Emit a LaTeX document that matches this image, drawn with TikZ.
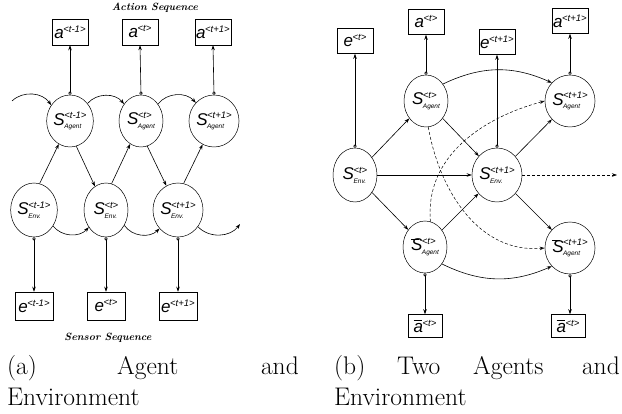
\documentclass[tikz,border=0pt]{standalone}
\usepackage{fontspec}
\newfontfamily\lbl{Liberation Sans}
\usetikzlibrary{arrows.meta,shapes.geometric}
\newcommand{\sv}[3]{{\lbl\itshape{\fontsize{17}{17}\selectfont #1}\hspace{-0.5pt}\ooalign{\raisebox{6.5pt}{\fontsize{9.5}{9.5}\selectfont #2}\cr\raisebox{-3.5pt}{\fontsize{6.5}{6.5}\selectfont #3}\cr}}}
\newcommand{\bv}[1]{\rlap{\raisebox{11.5pt}{\rule{8pt}{0.7pt}}}#1}
\newcommand{\av}[2]{{\lbl\itshape{\fontsize{17}{17}\selectfont #1}\hspace{-0.5pt}\raisebox{6pt}{\fontsize{9.5}{9.5}\selectfont #2}}}
\begin{document}
\begin{tikzpicture}[x=1pt,y=-1pt,
  st/.style={draw,ellipse,line width=0.5pt,minimum width=44pt,minimum height=52pt,inner sep=0pt},
  bx/.style={draw,rectangle,line width=0.5pt,minimum width=36pt,minimum height=26pt,inner sep=0pt},
  ar/.style={line width=0.6pt,-{Stealth[length=5pt,width=3.5pt]}},
  oar/.style={line width=0.6pt,{Circle[open,length=3.2pt]}-{Stealth[length=5pt,width=3.5pt]}},
  dar/.style={line width=0.5pt,densely dashed,-{Stealth[length=5pt,width=3.5pt,open]}},
  seq/.style={font=\fontsize{10.5}{10.5}\selectfont\bfseries\itshape},
  captxt/.style={font=\fontsize{25.5}{25.5}\selectfont,inner sep=0pt,anchor=base west}]
\useasboundingbox (0,0) rectangle (622,414);
% ---------------- panel (a)
\node[seq] (as) at (155,8) {Action Sequence};
\node[seq] (ss) at (108,338) {Sensor Sequence};
\node[bx] (A1) at (70,32) {\av{a}{<t-1>}};
\node[bx] (A2) at (140,32) {\av{a}{<t>}};
\node[bx] (A3) at (213,32) {\av{a}{<t+1>}};
\node[st] (G1) at (70,121) {\sv{S}{<t-1>}{Agent}};
\node[st] (G2) at (141,121) {\sv{S}{<t>}{Agent}};
\node[st] (G3) at (214,121) {\sv{S}{<t+1>}{Agent}};
\node[st,minimum height=54pt] (E1) at (34,210) {\sv{S}{<t-1>}{Env.}};
\node[st,minimum height=54pt] (E2) at (106,210) {\sv{S}{<t>}{Env.}};
\node[st,minimum height=54pt] (E3) at (178,210) {\sv{S}{<t+1>}{Env.}};
\node[bx,minimum width=38pt,minimum height=28pt] (S1) at (34,306) {\av{e}{<t-1>}};
\node[bx,minimum width=38pt,minimum height=28pt] (S2) at (106,306) {\av{e}{<t>}};
\node[bx,minimum width=38pt,minimum height=28pt] (S3) at (178,306) {\av{e}{<t+1>}};
\coordinate (c0) at (12,101);
\coordinate (c9) at (240,224);
\foreach \g/\a in {G1/A1,G2/A2,G3/A3}{\draw[oar] (\g.north) -- (\a.south);}
\foreach \e/\s in {E1/S1,E2/S2,E3/S3}{\draw[oar] (\e.south) -- (\s.north);}
\draw[ar] (E1.78) -- (G1);
\draw[ar] (G1.-76) -- (E2);
\draw[ar] (E2.78) -- (G2);
\draw[ar] (G2.-76) -- (E3);
\draw[ar] (E3.78) -- (G3);
\draw[ar] (c0) to[bend left=50] (G1.140);
\draw[ar] (G1.45) to[bend left=50] (G2.135);
\draw[ar] (G2.45) to[bend left=50] (G3.135);
\draw[ar] (E1.-40) to[bend right=50] (E2.-135);
\draw[ar] (E2.-40) to[bend right=50] (E3.-135);
\draw[ar] (E3.-40) to[bend right=50] (c9);
% ---------------- panel (b)
\node[bx,minimum height=25pt] (Be) at (355,41) {\av{e}{<t>}};
\node[bx,minimum height=25pt] (Ba) at (426,22) {\av{a}{<t>}};
\node[bx,minimum height=25pt] (Be1) at (497,42) {\av{e}{<t+1>}};
\node[bx,minimum height=25pt] (Ba1) at (570,21) {\av{a}{<t+1>}};
\node[st] (P) at (426,101) {\sv{S}{<t>}{Agent}};
\node[st] (P1) at (570,101) {\sv{S}{<t+1>}{Agent}};
\node[st,minimum height=54pt] (N) at (355,175) {\sv{S}{<t>}{Env.}};
\node[st,minimum height=54pt] (N1) at (497,175) {\sv{S}{<t+1>}{Env.}};
\node[st] (Q) at (425,247) {\sv{\bv{S}}{<t>}{Agent}};
\node[st] (Q1) at (570,248) {\sv{\bv{S}}{<t+1>}{Agent}};
\node[bx,minimum width=34pt,minimum height=23pt] (Bb) at (425,326) {\av{\bv{a}}{<t>}};
\node[bx,minimum width=34pt,minimum height=23pt] (Bb1) at (568,326) {\av{\bv{a}}{<t>}};
\coordinate (cr) at (617,175);
\draw[oar] (N.north) -- (Be.south);
\draw[oar] (N1.north) -- (Be1.south);
\draw[oar] (P.north) -- (Ba.south);
\draw[oar] (P1.north) -- (Ba1.south);
\draw[oar] (Q.south) -- (Bb.north);
\draw[oar] (Q1.south) -- (Q1.south |- Bb1.north);
\draw[ar] (N) -- (P);
\draw[ar] (N) -- (N1);
\draw[ar] (N) -- (Q);
\draw[ar] (P) -- (N1);
\draw[ar] (Q) -- (N1);
\draw[ar] (N1) -- (P1);
\draw[ar] (N1) -- (Q1);
\draw[line width=0.5pt,densely dashed,-{Stealth[length=5pt,width=3.5pt]}] (N1.east) -- (cr);
\draw[ar] (P.45) to[bend left=25] (P1.135);
\draw[ar] (Q.-45) to[bend right=25] (Q1.-135);
\draw[dar] (P.-85) to[out=-80,in=185] (Q1.west);
\draw[dar] (Q.78) to[out=95,in=195] (P1.west);
% ---------------- captions
\node[captxt] (ca1) at (7,375) {(a)};
\node[captxt] (ca2) at (117,375) {Agent};
\node[captxt,anchor=base east] (ca3) at (299,375) {and};
\node[captxt] (ca4) at (7,406) {Environment};
\node[captxt] (cb1) at (334,375) {(b)};
\node[captxt] (cb2) at (397,375) {Two};
\node[captxt] (cb3) at (473,375) {Agents};
\node[captxt,anchor=base east] (cb4) at (620,375) {and};
\node[captxt] (cb5) at (334,406) {Environment};
\end{tikzpicture}
\end{document}
